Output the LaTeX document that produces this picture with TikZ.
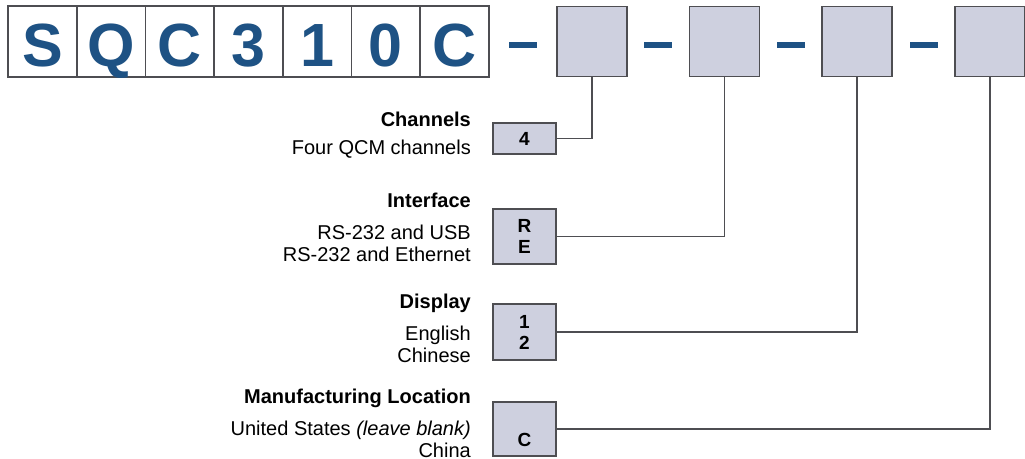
\documentclass[tikz,border=0pt]{standalone}
\usepackage{fontspec}
\setmainfont{Liberation Sans}
\usetikzlibrary{positioning,calc}
\definecolor{partblue}{RGB}{30,82,132}
\definecolor{slotgray}{RGB}{206,208,223}
\definecolor{edgegray}{RGB}{78,78,82}
\tikzset{
  digit/.style={draw=edgegray,line width=1.8pt,fill=white,minimum width=68.7pt,minimum height=71pt,inner sep=0pt,text height=49pt,text depth=0pt,font=\fontsize{61}{64}\selectfont\bfseries,text=partblue},
  slot/.style={digit,fill=slotgray,minimum width=70pt,minimum height=70pt},
  hyph/.style={fill=partblue,minimum width=28pt,minimum height=6pt,inner sep=0pt},
  codebox/.style={draw=edgegray,line width=1.8pt,fill=slotgray,minimum width=63pt,inner sep=0pt,align=center,font=\fontsize{19}{21}\selectfont\bfseries},
  head/.style={anchor=base east,inner sep=0pt,font=\fontsize{20}{23}\selectfont\bfseries},
  desc/.style={anchor=north east,inner sep=0pt,align=right,font=\fontsize{20}{22.5}\selectfont},
  link/.style={draw=edgegray,line width=1.6pt}
}

\begin{document}
\begin{tikzpicture}[x=1pt,y=-1pt]
  \useasboundingbox (0,0) rectangle (1025,458);

  % part number
  \foreach \ch [count=\i from 0] in {S,Q,C,3,1,0,C}
    \node[digit] (d\i) at ({42.35+68.7*\i},41.5) {\ch};
  \node[slot] (s1) at (592,41.5) {};
  \node[slot] (s2) at (724.5,41.5) {};
  \node[slot] (s3) at (857,41.5) {};
  \node[slot] (s4) at (990,41.5) {};
  \node[hyph] (h1) at ($(d6.east)!0.5!(s1.west)+(0,3.5)$) {};
  \node[hyph] (h2) at ($(s1.east)!0.5!(s2.west)+(0,3.5)$) {};
  \node[hyph] (h3) at ($(s2.east)!0.5!(s3.west)+(0,3.5)$) {};
  \node[hyph] (h4) at ($(s3.east)!0.5!(s4.west)+(0,3.5)$) {};

  % options
  \node[codebox,minimum height=31pt] (c1) at (524.5,138.5) {4};
  \node[codebox,minimum height=55pt] (c2) at (524.5,236.5) {R\\E};
  \node[codebox,minimum height=56pt] (c3) at (524.5,332) {1\\2};
  \node[codebox,minimum height=54pt] (c4) at (524.5,429) {\strut\\C};

  \node[head] (chan) at (471,126.3) {Channels};
  \node[desc] (chand) at (471,139.7) {Four QCM channels};
  \node[head] (intf) at (471,207.3) {Interface};
  \node[desc] (intfd) at (471,224.7) {RS-232 and USB\\RS-232 and Ethernet};
  \node[head] (disp) at (471,308.3) {Display};
  \node[desc] (dispd) at (471,325.7) {English\\Chinese};
  \node[head] (loc) at (471,403.3) {Manufacturing Location};
  \node[desc] (locd) at (471,420.7) {United States \textit{(leave blank)}\\China};

  \draw[link] (c1.east) -| (s1.south);
  \draw[link] (c2.east) -| (s2.south);
  \draw[link] (c3.east) -| (s3.south);
  \draw[link] (c4.east) -| (s4.south);
\end{tikzpicture}
\end{document}
